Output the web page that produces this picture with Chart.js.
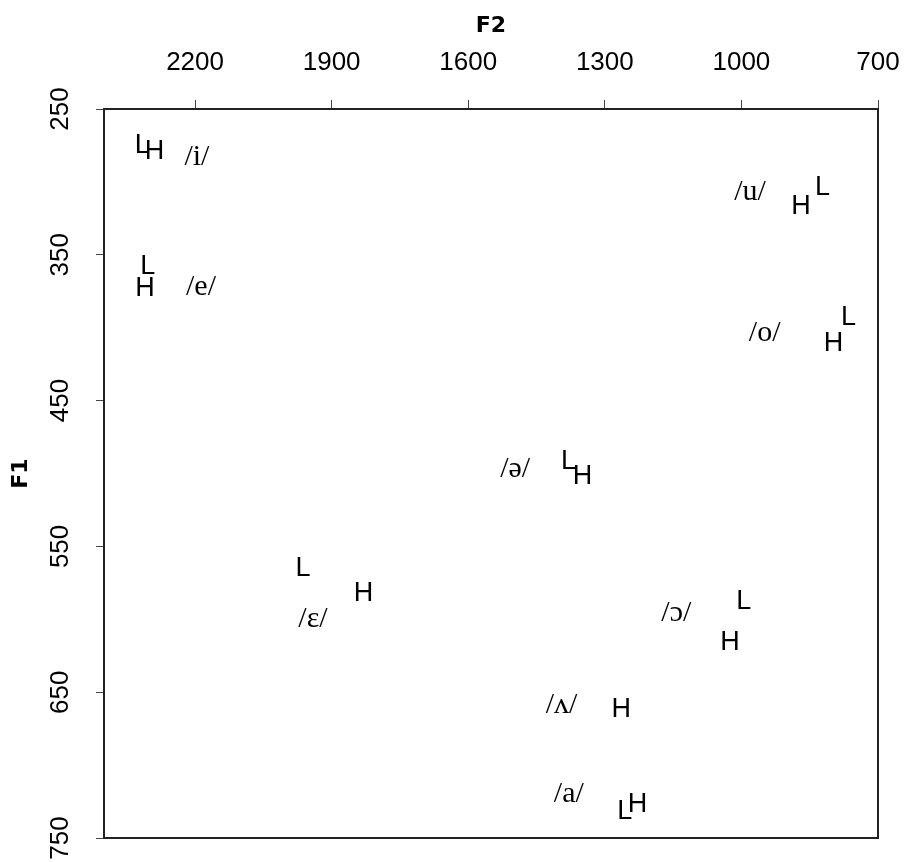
<!DOCTYPE html>
<html lang="en">
<head>
<meta charset="UTF-8">
<title>F1 / F2</title>
<script src="https://cdn.jsdelivr.net/npm/chart.js"></script>
<style>
  html, body { margin: 0; padding: 0; background: #fff; }
  #wrap { width: 904px; height: 862px; }
</style>
</head>
<body>
<div id="wrap"><canvas id="chart" width="904" height="862"></canvas></div>
<script>
// tick labels
const f2Ticks = [700, 1000, 1300, 1600, 1900, 2200];
const f1Ticks = [250, 350, 450, 550, 650, 750];

// vowel labels (F2, F1)
const vowels = ['/i/', '/e/', '/u/', '/o/', '/ə/', '/ɛ/', '/ɔ/', '/ʌ/', '/a/'];
const vowelF2 = [2196, 2187, 981, 949, 1497, 1941, 1143, 1395, 1379];
const vowelF1 = [283, 372, 307, 404, 497, 600, 596, 659, 720];

// "L" condition
const lowVowels = ['/i/', '/e/', '/u/', '/o/', '/ə/', '/ɛ/', '/ɔ/', '/a/'];
const lowF2 = [2316, 2304, 822, 765, 1380, 1963, 995, 1256];
const lowF1 = [275, 358, 304, 393, 492, 565, 588, 732];

// "H" condition
const highVowels = ['/i/', '/e/', '/u/', '/o/', '/ə/', '/ɛ/', '/ɔ/', '/ʌ/', '/a/'];
const highF2 = [2289, 2310, 869, 798, 1349, 1830, 1025, 1264, 1228];
const highF1 = [279, 373, 317, 411, 502, 582, 616, 662, 727];

const toPoints = (xs, ys) => xs.map((x, i) => ({ x: x, y: ys[i] }));

// draws each point as a piece of text instead of a marker
const textMarks = {
  id: 'textMarks',
  afterDatasetsDraw(chart) {
    const ctx = chart.ctx;
    chart.data.datasets.forEach((ds, di) => {
      const meta = chart.getDatasetMeta(di);
      ctx.save();
      ctx.font = ds.markFont;
      ctx.fillStyle = '#000';
      ctx.textAlign = 'center';
      ctx.textBaseline = 'middle';
      meta.data.forEach((el, i) => {
        const txt = ds.markText ? ds.markText : ds.labelsText[i];
        ctx.fillText(txt, el.x, el.y);
      });
      ctx.restore();
    });
  }
};

const frame = {
  id: 'frame',
  afterDraw(chart) {
    const a = chart.chartArea;
    const ctx = chart.ctx;
    ctx.save();
    ctx.strokeStyle = '#222';
    ctx.lineWidth = 2;
    ctx.strokeRect(a.left, a.top, a.right - a.left, a.bottom - a.top);
    ctx.restore();
  }
};

const tickFont = { family: '"Liberation Sans", Arial, sans-serif', size: 26 };

new Chart(document.getElementById('chart'), {
  type: 'scatter',
  data: {
    datasets: [
      {
        label: 'vowel',
        data: toPoints(vowelF2, vowelF1),
        labelsText: vowels,
        markFont: '30px "Liberation Serif", "DejaVu Serif", serif',
        pointRadius: 0
      },
      {
        label: 'L',
        data: toPoints(lowF2, lowF1),
        markText: 'L',
        markFont: '27px "Liberation Sans", Arial, sans-serif',
        pointRadius: 0
      },
      {
        label: 'H',
        data: toPoints(highF2, highF1),
        markText: 'H',
        markFont: '27px "Liberation Sans", Arial, sans-serif',
        pointRadius: 0
      }
    ]
  },
  options: {
    responsive: false,
    animation: false,
    layout: { padding: { left: 0, top: 0, right: 26, bottom: 24 } },
    plugins: {
      legend: { display: false },
      tooltip: { enabled: false }
    },
    scales: {
      x: {
        type: 'linear',
        position: 'top',
        reverse: true,
        min: 700,
        max: 2400,
        afterBuildTicks: s => { s.ticks = f2Ticks.map(v => ({ value: v })); },
        afterFit: s => { s.height = 109; s.paddingLeft = 0; s.paddingRight = 0; },
        grid: { drawOnChartArea: false, tickLength: 9, color: '#444', lineWidth: 1 },
        border: { display: false },
        ticks: {
          color: '#000',
          padding: 22,
          maxRotation: 0,
          callback: v => String(v),
          font: tickFont
        },
        title: {
          display: true,
          text: 'F2',
          color: '#000',
          padding: { top: 13, bottom: 0 },
          font: { family: '"DejaVu Sans", sans-serif', size: 22, weight: 'bold' }
        }
      },
      y: {
        type: 'linear',
        position: 'left',
        reverse: true,
        min: 250,
        max: 750,
        afterBuildTicks: s => { s.ticks = f1Ticks.map(v => ({ value: v })); },
        afterFit: s => { s.width = 104; s.paddingTop = 0; s.paddingBottom = 0; },
        grid: { drawOnChartArea: false, tickLength: 8, color: '#444', lineWidth: 1 },
        border: { display: false },
        ticks: {
          color: '#000',
          padding: 13,
          minRotation: 90,
          maxRotation: 90,
          crossAlign: 'center',
          callback: v => String(v),
          font: tickFont
        },
        title: {
          display: true,
          text: 'F1',
          color: '#000',
          padding: { top: 8, bottom: 0 },
          font: { family: '"DejaVu Sans", sans-serif', size: 22, weight: 'bold' }
        }
      }
    }
  },
  plugins: [textMarks, frame]
});
</script>
</body>
</html>
